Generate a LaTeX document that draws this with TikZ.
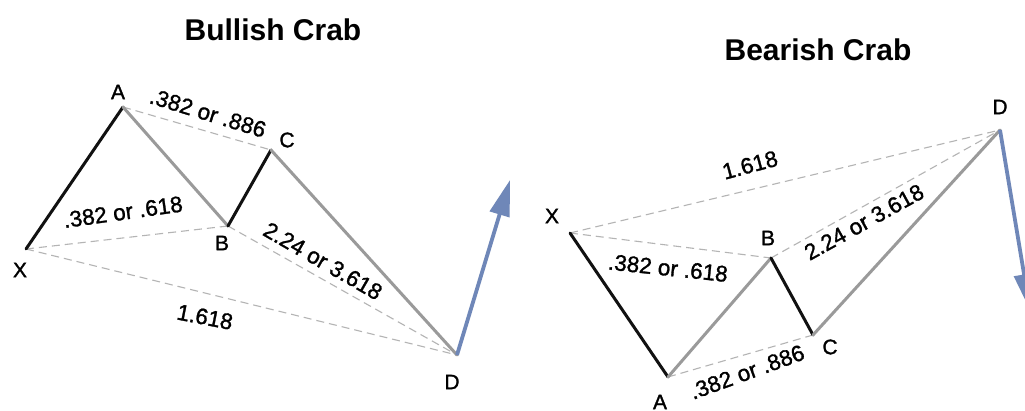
\documentclass[tikz,border=0pt]{standalone}
\usepackage{fontspec}
\setmainfont{Liberation Sans}
\newfontfamily\labelfont[FakeBold=1.3]{Liberation Sans}
\usetikzlibrary{arrows.meta}
\definecolor{legdark}{HTML}{111111}
\definecolor{leggray}{HTML}{9A9A9A}
\definecolor{dashgray}{HTML}{B4B4B4}
\definecolor{arrowblue}{HTML}{6F87B8}
\tikzset{
  darkleg/.style={draw=legdark,line width=3pt,line cap=round,line join=round},
  grayleg/.style={draw=leggray,line width=3pt,line cap=round,line join=round},
  ratio/.style={draw=dashgray,line width=1.1pt,dash pattern=on 8pt off 5pt},
  trend/.style={draw=arrowblue,line width=3.8pt,-{Triangle[length=36pt,width=20pt]}},
  ptlabel/.style={font=\labelfont\fontsize{21}{24}\selectfont,inner sep=0pt},
  numlabel/.style={font=\labelfont\fontsize{22.5}{26}\selectfont,inner sep=0pt},
  heading/.style={font=\fontsize{30}{34}\selectfont\bfseries,inner sep=0pt}
}
\begin{document}
\begin{tikzpicture}[x=1pt,y=-1pt]
\useasboundingbox (0,0) rectangle (1025,411);
\clip (0,0) rectangle (1025,411);
\fill[white] (0,0) rectangle (1025,411);

% ---------- Bullish Crab ----------
\node[heading] (t1) at (273,30) {Bullish Crab};
\coordinate (X1) at (26,249);
\coordinate (A1) at (123,107);
\coordinate (B1) at (228,226);
\coordinate (C1) at (271,150);
\coordinate (D1) at (457,355);
\coordinate (E1) at (510,180);

\draw[ratio] (A1) -- (C1);
\draw[ratio] (X1) -- (B1);
\draw[ratio] (B1) -- (D1);
\draw[ratio] (X1) -- (D1);
\draw[darkleg] (X1) -- (A1);
\draw[grayleg] (A1) -- (B1);
\draw[darkleg] (B1) -- (C1);
\draw[grayleg] (C1) -- (D1);
\draw[trend] (D1) -- (E1);

\node[ptlabel] (lx1) at (20,270) {X};
\node[ptlabel] (la1) at (118,92) {A};
\node[ptlabel] (lb1) at (222,243) {B};
\node[ptlabel] (lc1) at (287,140) {C};
\node[ptlabel] (ld1) at (452,382) {D};

\node[numlabel,rotate=-17] (n11) at (208,113) {.382 or .886};
\node[numlabel,rotate=8] (n12) at (123,212) {.382 or .618};
\node[numlabel,rotate=-30] (n13) at (323,261) {2.24 or 3.618};
\node[numlabel,rotate=-11] (n14) at (205,317) {1.618};

% ---------- Bearish Crab ----------
\node[heading] (t2) at (818,50) {Bearish Crab};
\coordinate (X2) at (570,233);
\coordinate (A2) at (668,377);
\coordinate (B2) at (771,258);
\coordinate (C2) at (813,335);
\coordinate (D2) at (1000,130);
\coordinate (E2) at (1030,310);

\draw[ratio] (X2) -- (D2);
\draw[ratio] (X2) -- (B2);
\draw[ratio] (B2) -- (D2);
\draw[ratio] (A2) -- (C2);
\draw[darkleg] (X2) -- (A2);
\draw[grayleg] (A2) -- (B2);
\draw[darkleg] (B2) -- (C2);
\draw[grayleg] (C2) -- (D2);
\draw[trend] (D2) -- (E2);

\node[ptlabel] (lx2) at (552,216) {X};
\node[ptlabel] (la2) at (660,402) {A};
\node[ptlabel] (lb2) at (768,238) {B};
\node[ptlabel] (lc2) at (830,347) {C};
\node[ptlabel] (ld2) at (1000,107) {D};

\node[numlabel,rotate=15] (n21) at (750,165) {1.618};
\node[numlabel,rotate=-6] (n22) at (668,268) {.382 or .618};
\node[numlabel,rotate=29] (n23) at (864,222) {2.24 or 3.618};
\node[numlabel,rotate=20] (n24) at (747,372) {.382 or .886};
\end{tikzpicture}
\end{document}
